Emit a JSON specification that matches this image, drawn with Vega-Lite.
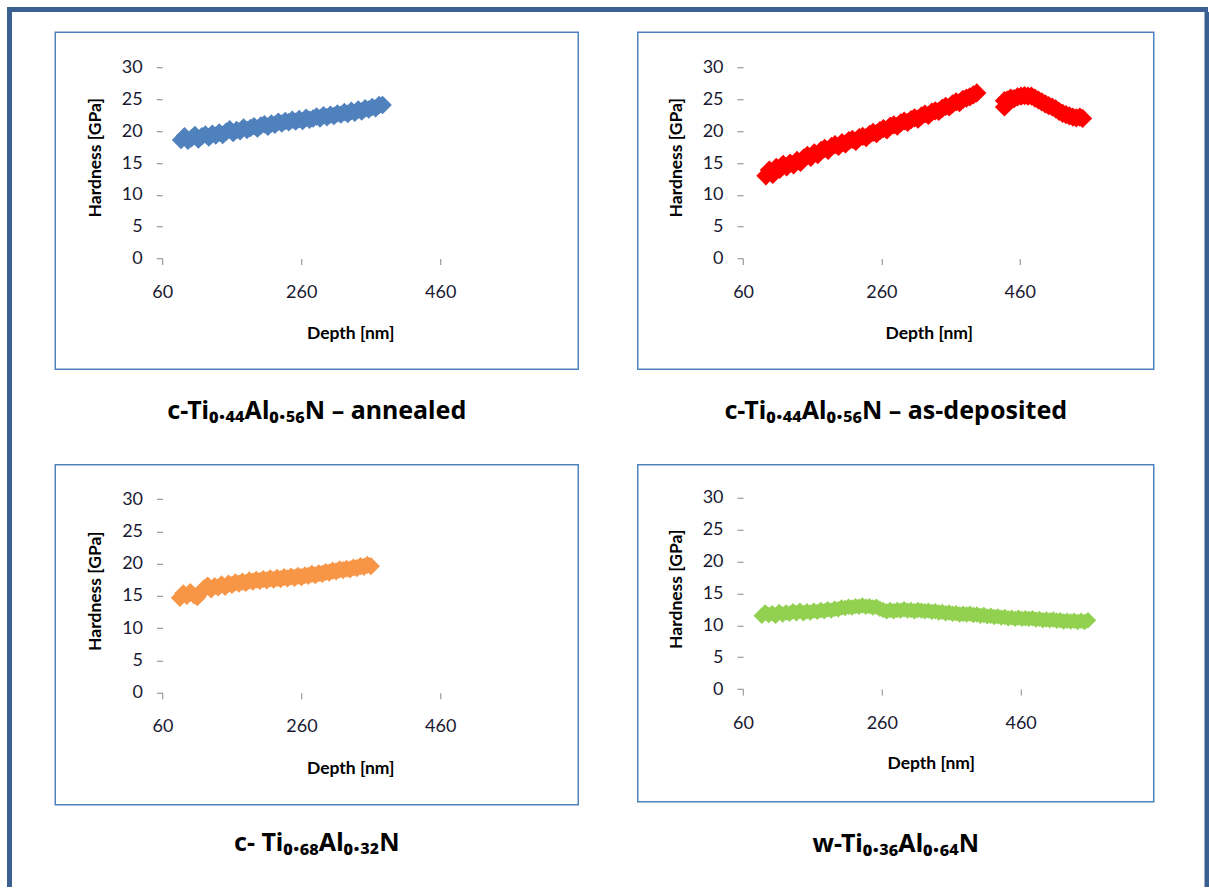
{
  "$schema": "https://vega.github.io/schema/vega-lite/v6.json",
  "background": "white",
  "padding": {"left": 7, "top": 7, "right": 0, "bottom": 0},
  "config": {
    "view": {"stroke": null},
    "axis": {"domain": false, "grid": false, "ticks": true, "tickColor": "#868686", "tickSize": 6, "tickWidth": 1,
      "labelFont": "Lato", "labelFontSize": 18, "labelColor": "#1A1A33", "labelOverlap": false, "labelFlush": false,
      "titleFont": "Lato", "titleFontSize": 17.5, "titleFontWeight": "bold", "titleColor": "#000000"},
    "title": {"font": "Noto Sans", "fontSize": 25, "fontWeight": "bold", "color": "#000000", "anchor": "middle", "baseline": "middle"}
  },
  "datasets": {
    "annealed": [
      {"depth":87,"hardness":18.6},{"depth":92,"hardness":19.2},{"depth":97,"hardness":18.5},
      {"depth":102,"hardness":18.9},{"depth":107,"hardness":19.4},{"depth":112,"hardness":18.7},{"depth":117,"hardness":19.2},{"depth":122,"hardness":19.5},
      {"depth":127,"hardness":19.0},{"depth":132,"hardness":19.6},{"depth":137,"hardness":19.3},{"depth":142,"hardness":19.8},{"depth":147,"hardness":19.4},
      {"depth":152,"hardness":19.9},{"depth":157,"hardness":20.3},{"depth":162,"hardness":19.7},{"depth":167,"hardness":20.2},{"depth":172,"hardness":20.0},
      {"depth":177,"hardness":20.6},{"depth":182,"hardness":20.2},{"depth":187,"hardness":20.5},{"depth":192,"hardness":20.8},{"depth":197,"hardness":20.4},
      {"depth":202,"hardness":20.9},{"depth":207,"hardness":21.1},{"depth":212,"hardness":20.7},{"depth":217,"hardness":21.2},{"depth":222,"hardness":21.0},
      {"depth":227,"hardness":21.5},{"depth":232,"hardness":21.2},{"depth":237,"hardness":21.6},{"depth":242,"hardness":21.4},{"depth":247,"hardness":21.8},
      {"depth":252,"hardness":21.5},{"depth":257,"hardness":21.9},{"depth":262,"hardness":21.6},{"depth":267,"hardness":22.1},{"depth":272,"hardness":21.8},
      {"depth":277,"hardness":22.0},{"depth":282,"hardness":22.3},{"depth":287,"hardness":22.0},{"depth":292,"hardness":22.5},{"depth":297,"hardness":22.2},
      {"depth":302,"hardness":22.6},{"depth":307,"hardness":22.4},{"depth":312,"hardness":22.8},{"depth":317,"hardness":22.6},{"depth":322,"hardness":23.0},
      {"depth":327,"hardness":22.7},{"depth":332,"hardness":23.2},{"depth":337,"hardness":22.9},{"depth":342,"hardness":23.4},{"depth":347,"hardness":23.1},
      {"depth":352,"hardness":23.6},{"depth":357,"hardness":23.4},{"depth":362,"hardness":23.8},{"depth":367,"hardness":23.6},{"depth":372,"hardness":24.1},
      {"depth":377,"hardness":24.1}
    ],
    "asdeposited": [
      {"depth":93,"hardness":13.0},{"depth":98,"hardness":13.9},
      {"depth":103,"hardness":13.2},{"depth":108,"hardness":14.3},{"depth":113,"hardness":14.0},{"depth":118,"hardness":14.8},{"depth":123,"hardness":14.4},
      {"depth":128,"hardness":15.0},{"depth":133,"hardness":14.7},{"depth":138,"hardness":15.4},{"depth":143,"hardness":15.1},{"depth":148,"hardness":15.8},
      {"depth":153,"hardness":16.2},{"depth":158,"hardness":15.9},{"depth":163,"hardness":16.6},{"depth":168,"hardness":16.3},{"depth":173,"hardness":17.0},
      {"depth":178,"hardness":17.3},{"depth":183,"hardness":17.0},{"depth":188,"hardness":17.6},{"depth":193,"hardness":17.9},{"depth":198,"hardness":17.6},
      {"depth":203,"hardness":18.2},{"depth":208,"hardness":18.0},{"depth":213,"hardness":18.5},{"depth":218,"hardness":18.7},{"depth":223,"hardness":18.4},
      {"depth":228,"hardness":19.0},{"depth":233,"hardness":19.2},{"depth":238,"hardness":19.0},{"depth":243,"hardness":19.5},{"depth":248,"hardness":19.8},
      {"depth":253,"hardness":19.6},{"depth":258,"hardness":20.1},{"depth":263,"hardness":20.4},{"depth":268,"hardness":20.2},{"depth":273,"hardness":20.8},
      {"depth":278,"hardness":21.0},{"depth":283,"hardness":20.8},{"depth":288,"hardness":21.3},{"depth":293,"hardness":21.6},{"depth":298,"hardness":21.4},
      {"depth":303,"hardness":21.8},{"depth":308,"hardness":22.1},{"depth":313,"hardness":21.9},{"depth":318,"hardness":22.4},{"depth":323,"hardness":22.7},
      {"depth":328,"hardness":22.5},{"depth":333,"hardness":23.0},{"depth":338,"hardness":23.2},{"depth":343,"hardness":23.1},{"depth":348,"hardness":23.6},
      {"depth":353,"hardness":23.9},{"depth":358,"hardness":23.8},{"depth":363,"hardness":24.3},{"depth":368,"hardness":24.6},{"depth":373,"hardness":24.5},
      {"depth":378,"hardness":25.0},{"depth":383,"hardness":25.2},{"depth":388,"hardness":25.4},{"depth":393,"hardness":25.7},{"depth":398,"hardness":26.0},
      {"depth":438,"hardness":23.8},{"depth":438,"hardness":24.8},{"depth":442,"hardness":24.9},
      {"depth":447,"hardness":25.2},{"depth":452,"hardness":25.1},{"depth":457,"hardness":25.4},{"depth":462,"hardness":25.5},{"depth":467,"hardness":25.6},
      {"depth":472,"hardness":25.5},{"depth":477,"hardness":25.5},{"depth":482,"hardness":25.2},{"depth":487,"hardness":24.9},{"depth":492,"hardness":24.6},
      {"depth":497,"hardness":24.3},{"depth":502,"hardness":24.0},{"depth":507,"hardness":23.8},{"depth":512,"hardness":23.5},{"depth":517,"hardness":23.1},
      {"depth":522,"hardness":22.8},{"depth":527,"hardness":22.6},{"depth":532,"hardness":22.4},{"depth":537,"hardness":22.2},{"depth":542,"hardness":22.1},
      {"depth":547,"hardness":22.2},{"depth":551,"hardness":22.0}
    ],
    "c068": [
      {"depth":85,"hardness":14.7},{"depth":90,"hardness":15.4},{"depth":95,"hardness":15.0},
      {"depth":100,"hardness":15.6},{"depth":105,"hardness":15.1},{"depth":110,"hardness":14.8},{"depth":115,"hardness":15.5},{"depth":120,"hardness":16.2},
      {"depth":125,"hardness":16.6},{"depth":130,"hardness":16.0},{"depth":135,"hardness":16.5},{"depth":140,"hardness":16.3},{"depth":145,"hardness":16.8},
      {"depth":150,"hardness":16.4},{"depth":155,"hardness":16.9},{"depth":160,"hardness":16.7},{"depth":165,"hardness":17.1},{"depth":170,"hardness":16.9},
      {"depth":175,"hardness":17.2},{"depth":180,"hardness":17.0},{"depth":185,"hardness":17.4},{"depth":190,"hardness":17.2},{"depth":195,"hardness":17.5},
      {"depth":200,"hardness":17.3},{"depth":205,"hardness":17.6},{"depth":210,"hardness":17.4},{"depth":215,"hardness":17.7},{"depth":220,"hardness":17.5},
      {"depth":225,"hardness":17.8},{"depth":230,"hardness":17.6},{"depth":235,"hardness":17.9},{"depth":240,"hardness":17.7},{"depth":245,"hardness":18.0},
      {"depth":250,"hardness":17.8},{"depth":255,"hardness":18.1},{"depth":260,"hardness":17.9},{"depth":265,"hardness":18.2},{"depth":270,"hardness":18.1},
      {"depth":275,"hardness":18.4},{"depth":280,"hardness":18.2},{"depth":285,"hardness":18.5},{"depth":290,"hardness":18.4},{"depth":295,"hardness":18.7},
      {"depth":300,"hardness":18.6},{"depth":305,"hardness":18.9},{"depth":310,"hardness":18.8},{"depth":315,"hardness":19.1},{"depth":320,"hardness":19.0},
      {"depth":325,"hardness":19.2},{"depth":330,"hardness":19.1},{"depth":335,"hardness":19.4},{"depth":340,"hardness":19.3},{"depth":345,"hardness":19.6},
      {"depth":350,"hardness":19.5},{"depth":355,"hardness":19.8},{"depth":360,"hardness":19.6}
    ],
    "w036": [
      {"depth":87,"hardness":11.5},{"depth":92,"hardness":12.0},{"depth":97,"hardness":11.6},
      {"depth":102,"hardness":11.9},{"depth":107,"hardness":11.5},{"depth":112,"hardness":12.1},{"depth":117,"hardness":11.7},{"depth":122,"hardness":12.0},
      {"depth":127,"hardness":11.8},{"depth":132,"hardness":12.2},{"depth":137,"hardness":11.9},{"depth":142,"hardness":12.3},{"depth":147,"hardness":11.9},
      {"depth":152,"hardness":12.2},{"depth":157,"hardness":12.0},{"depth":162,"hardness":12.3},{"depth":167,"hardness":12.1},{"depth":172,"hardness":12.4},
      {"depth":177,"hardness":12.2},{"depth":182,"hardness":12.5},{"depth":187,"hardness":12.3},{"depth":192,"hardness":12.6},{"depth":197,"hardness":12.5},
      {"depth":202,"hardness":12.8},{"depth":207,"hardness":12.7},{"depth":212,"hardness":12.9},{"depth":217,"hardness":12.8},{"depth":222,"hardness":13.0},
      {"depth":227,"hardness":12.9},{"depth":232,"hardness":13.1},{"depth":237,"hardness":12.9},{"depth":242,"hardness":13.0},{"depth":247,"hardness":12.8},
      {"depth":252,"hardness":12.9},{"depth":257,"hardness":12.6},{"depth":262,"hardness":12.4},{"depth":267,"hardness":12.2},{"depth":272,"hardness":12.4},
      {"depth":277,"hardness":12.2},{"depth":282,"hardness":12.4},{"depth":287,"hardness":12.3},{"depth":292,"hardness":12.5},{"depth":297,"hardness":12.3},
      {"depth":302,"hardness":12.4},{"depth":307,"hardness":12.2},{"depth":312,"hardness":12.4},{"depth":317,"hardness":12.3},{"depth":322,"hardness":12.2},
      {"depth":327,"hardness":12.3},{"depth":332,"hardness":12.1},{"depth":337,"hardness":12.2},{"depth":342,"hardness":12.0},{"depth":347,"hardness":12.1},
      {"depth":352,"hardness":11.9},{"depth":357,"hardness":12.0},{"depth":362,"hardness":11.8},{"depth":367,"hardness":11.9},{"depth":372,"hardness":11.7},
      {"depth":377,"hardness":11.8},{"depth":382,"hardness":11.7},{"depth":387,"hardness":11.8},{"depth":392,"hardness":11.6},{"depth":397,"hardness":11.7},
      {"depth":402,"hardness":11.5},{"depth":407,"hardness":11.6},{"depth":412,"hardness":11.4},{"depth":417,"hardness":11.5},{"depth":422,"hardness":11.3},
      {"depth":427,"hardness":11.4},{"depth":432,"hardness":11.2},{"depth":437,"hardness":11.3},{"depth":442,"hardness":11.1},{"depth":447,"hardness":11.2},
      {"depth":452,"hardness":11.0},{"depth":457,"hardness":11.2},{"depth":462,"hardness":11.0},{"depth":467,"hardness":11.1},{"depth":472,"hardness":11.0},
      {"depth":477,"hardness":11.1},{"depth":482,"hardness":10.9},{"depth":487,"hardness":11.0},{"depth":492,"hardness":10.8},{"depth":497,"hardness":10.9},
      {"depth":502,"hardness":10.8},{"depth":507,"hardness":10.9},{"depth":512,"hardness":10.7},{"depth":517,"hardness":10.8},{"depth":522,"hardness":10.6},
      {"depth":527,"hardness":10.7},{"depth":532,"hardness":10.6},{"depth":537,"hardness":10.7},{"depth":542,"hardness":10.5},{"depth":547,"hardness":10.7},
      {"depth":552,"hardness":10.5},{"depth":557,"hardness":10.8}
    ]
  },
  "spacing": 0,
  "vconcat": [
    {"width": 1197, "height": 1, "data": {"values": []}, "mark": "rule", "encoding": {},
     "view": {"stroke": "#3A5F91", "strokeWidth": 4, "fill": "#3A5F91"}},
    {"spacing": 42.25, "hconcat": [
      {"width": 1, "height": 871, "data": {"values": []}, "mark": "rule", "encoding": {},
       "view": {"stroke": "#3A5F91", "strokeWidth": 4, "fill": "#3A5F91"}},
      {"spacing": 49.25, "hconcat": [
        {"spacing": 16.25, "vconcat": [
          {"width": 1, "height": 1, "data": {"values": []}, "mark": "rule", "encoding": {}},
          {"spacing": 38.5, "vconcat": [
            {"spacing": 57.5, "hconcat": [
              {"width": 523, "height": 337,
               "view": {"stroke": "#4F81BD", "strokeWidth": 1.5, "fill": "white"},
               "title": {"text": "c-Ti₀.₄₄Al₀.₅₆N – annealed", "orient": "bottom", "offset": 30},
               "data": {"name": "annealed"},
               "encoding": {
                 "x": {"field": "depth", "type": "quantitative", "title": "Depth [nm]",
                   "scale": {"domain": [-93.96, 658.56], "nice": false, "zero": false},
                   "axis": {"values": [60, 260, 460], "offset": -110.7, "labelPadding": 19, "labelBaseline": "top", "titleX": 295, "titleY": 74.5, "titleBaseline": "middle"}},
                 "y": {"field": "hardness", "type": "quantitative", "title": "Hardness [GPa]",
                   "scale": {"domain": [-17.39, 35.54], "nice": false, "zero": false},
                   "axis": {"values": [0, 5, 10, 15, 20, 25, 30], "offset": -107, "labelPadding": 14, "titleX": -67, "titleY": 125, "titleBaseline": "middle"}}
               },
               "layer": [
                 {"data": {"values": [{}]}, "mark": {"type": "rule", "color": "#868686", "strokeWidth": 1}, "encoding": {"x": {"datum": 60}, "x2": {"datum": 604}, "y": {"datum": 0}}},
                 {"data": {"values": [{}]}, "mark": {"type": "rule", "color": "#868686", "strokeWidth": 1}, "encoding": {"x": {"datum": 60}, "y": {"datum": 0}, "y2": {"datum": 31.9}}},
                 {"mark": {"type": "point", "shape": "diamond", "filled": true, "size": 340, "color": "#4F81BD", "opacity": 1}}
               ]},
              {"width": 516, "height": 337,
               "view": {"stroke": "#4F81BD", "strokeWidth": 1.5, "fill": "white"},
               "title": {"text": "c-Ti₀.₄₄Al₀.₅₆N – as-deposited", "orient": "bottom", "offset": 30},
               "data": {"name": "asdeposited"},
               "encoding": {
                 "x": {"field": "depth", "type": "quantitative", "title": "Depth [nm]",
                   "scale": {"domain": [-92.3, 653.9], "nice": false, "zero": false},
                   "axis": {"values": [60, 260, 460], "offset": -110.7, "labelPadding": 19, "labelBaseline": "top", "titleX": 291, "titleY": 74.5, "titleBaseline": "middle"}},
                 "y": {"field": "hardness", "type": "quantitative", "title": "Hardness [GPa]",
                   "scale": {"domain": [-17.39, 35.54], "nice": false, "zero": false},
                   "axis": {"values": [0, 5, 10, 15, 20, 25, 30], "offset": -105.3, "labelPadding": 14, "titleX": -67, "titleY": 125, "titleBaseline": "middle"}}
               },
               "layer": [
                 {"data": {"values": [{}]}, "mark": {"type": "rule", "color": "#868686", "strokeWidth": 1}, "encoding": {"x": {"datum": 60}, "x2": {"datum": 604}, "y": {"datum": 0}}},
                 {"data": {"values": [{}]}, "mark": {"type": "rule", "color": "#868686", "strokeWidth": 1}, "encoding": {"x": {"datum": 60}, "y": {"datum": 0}, "y2": {"datum": 31.9}}},
                 {"mark": {"type": "point", "shape": "diamond", "filled": true, "size": 370, "color": "#FF0000", "opacity": 1}}
               ]}
            ]},
            {"spacing": 57.5, "hconcat": [
              {"width": 523, "height": 340,
               "view": {"stroke": "#4F81BD", "strokeWidth": 1.5, "fill": "white"},
               "title": {"text": "c- Ti₀.₆₈Al₀.₃₂N", "orient": "bottom", "offset": 26},
               "data": {"name": "c068"},
               "encoding": {
                 "x": {"field": "depth", "type": "quantitative", "title": "Depth [nm]",
                   "scale": {"domain": [-94.5, 658.7], "nice": false, "zero": false},
                   "axis": {"values": [60, 260, 460], "offset": -112, "labelPadding": 19, "labelBaseline": "top", "titleX": 295, "titleY": 76, "titleBaseline": "middle"}},
                 "y": {"field": "hardness", "type": "quantitative", "title": "Hardness [GPa]",
                   "scale": {"domain": [-17.35, 35.31], "nice": false, "zero": false},
                   "axis": {"values": [0, 5, 10, 15, 20, 25, 30], "offset": -107.3, "labelPadding": 14, "titleX": -67, "titleY": 126, "titleBaseline": "middle"}}
               },
               "layer": [
                 {"data": {"values": [{}]}, "mark": {"type": "rule", "color": "#868686", "strokeWidth": 1}, "encoding": {"x": {"datum": 60}, "x2": {"datum": 604}, "y": {"datum": 0}}},
                 {"data": {"values": [{}]}, "mark": {"type": "rule", "color": "#868686", "strokeWidth": 1}, "encoding": {"x": {"datum": 60}, "y": {"datum": 0}, "y2": {"datum": 31.9}}},
                 {"mark": {"type": "point", "shape": "diamond", "filled": true, "size": 330, "color": "#F79646", "opacity": 1}}
               ]},
              {"width": 516, "height": 337,
               "view": {"stroke": "#4F81BD", "strokeWidth": 1.5, "fill": "white"},
               "title": {"text": "w-Ti₀.₃₆Al₀.₆₄N", "orient": "bottom", "offset": 30},
               "data": {"name": "w036"},
               "encoding": {
                 "x": {"field": "depth", "type": "quantitative", "title": "Depth [nm]",
                   "scale": {"domain": [-91.7, 651.8], "nice": false, "zero": false},
                   "axis": {"values": [60, 260, 460], "offset": -112.7, "labelPadding": 19, "labelBaseline": "top", "titleX": 293, "titleY": 74.5, "titleBaseline": "middle"}},
                 "y": {"field": "hardness", "type": "quantitative", "title": "Hardness [GPa]",
                   "scale": {"domain": [-17.67, 35.17], "nice": false, "zero": false},
                   "axis": {"values": [0, 5, 10, 15, 20, 25, 30], "offset": -105.3, "labelPadding": 14, "titleX": -67, "titleY": 124, "titleBaseline": "middle"}}
               },
               "layer": [
                 {"data": {"values": [{}]}, "mark": {"type": "rule", "color": "#868686", "strokeWidth": 1}, "encoding": {"x": {"datum": 60}, "x2": {"datum": 604}, "y": {"datum": 0}}},
                 {"data": {"values": [{}]}, "mark": {"type": "rule", "color": "#868686", "strokeWidth": 1}, "encoding": {"x": {"datum": 60}, "y": {"datum": 0}, "y2": {"datum": 31.9}}},
                 {"mark": {"type": "point", "shape": "diamond", "filled": true, "size": 270, "color": "#92D050", "opacity": 1}}
               ]}
            ]}
          ]}
        ]},
        {"width": 1, "height": 871, "data": {"values": []}, "mark": "rule", "encoding": {},
         "view": {"stroke": "#3A5F91", "strokeWidth": 4, "fill": "#3A5F91"}}
      ]}
    ]}
  ]
}
